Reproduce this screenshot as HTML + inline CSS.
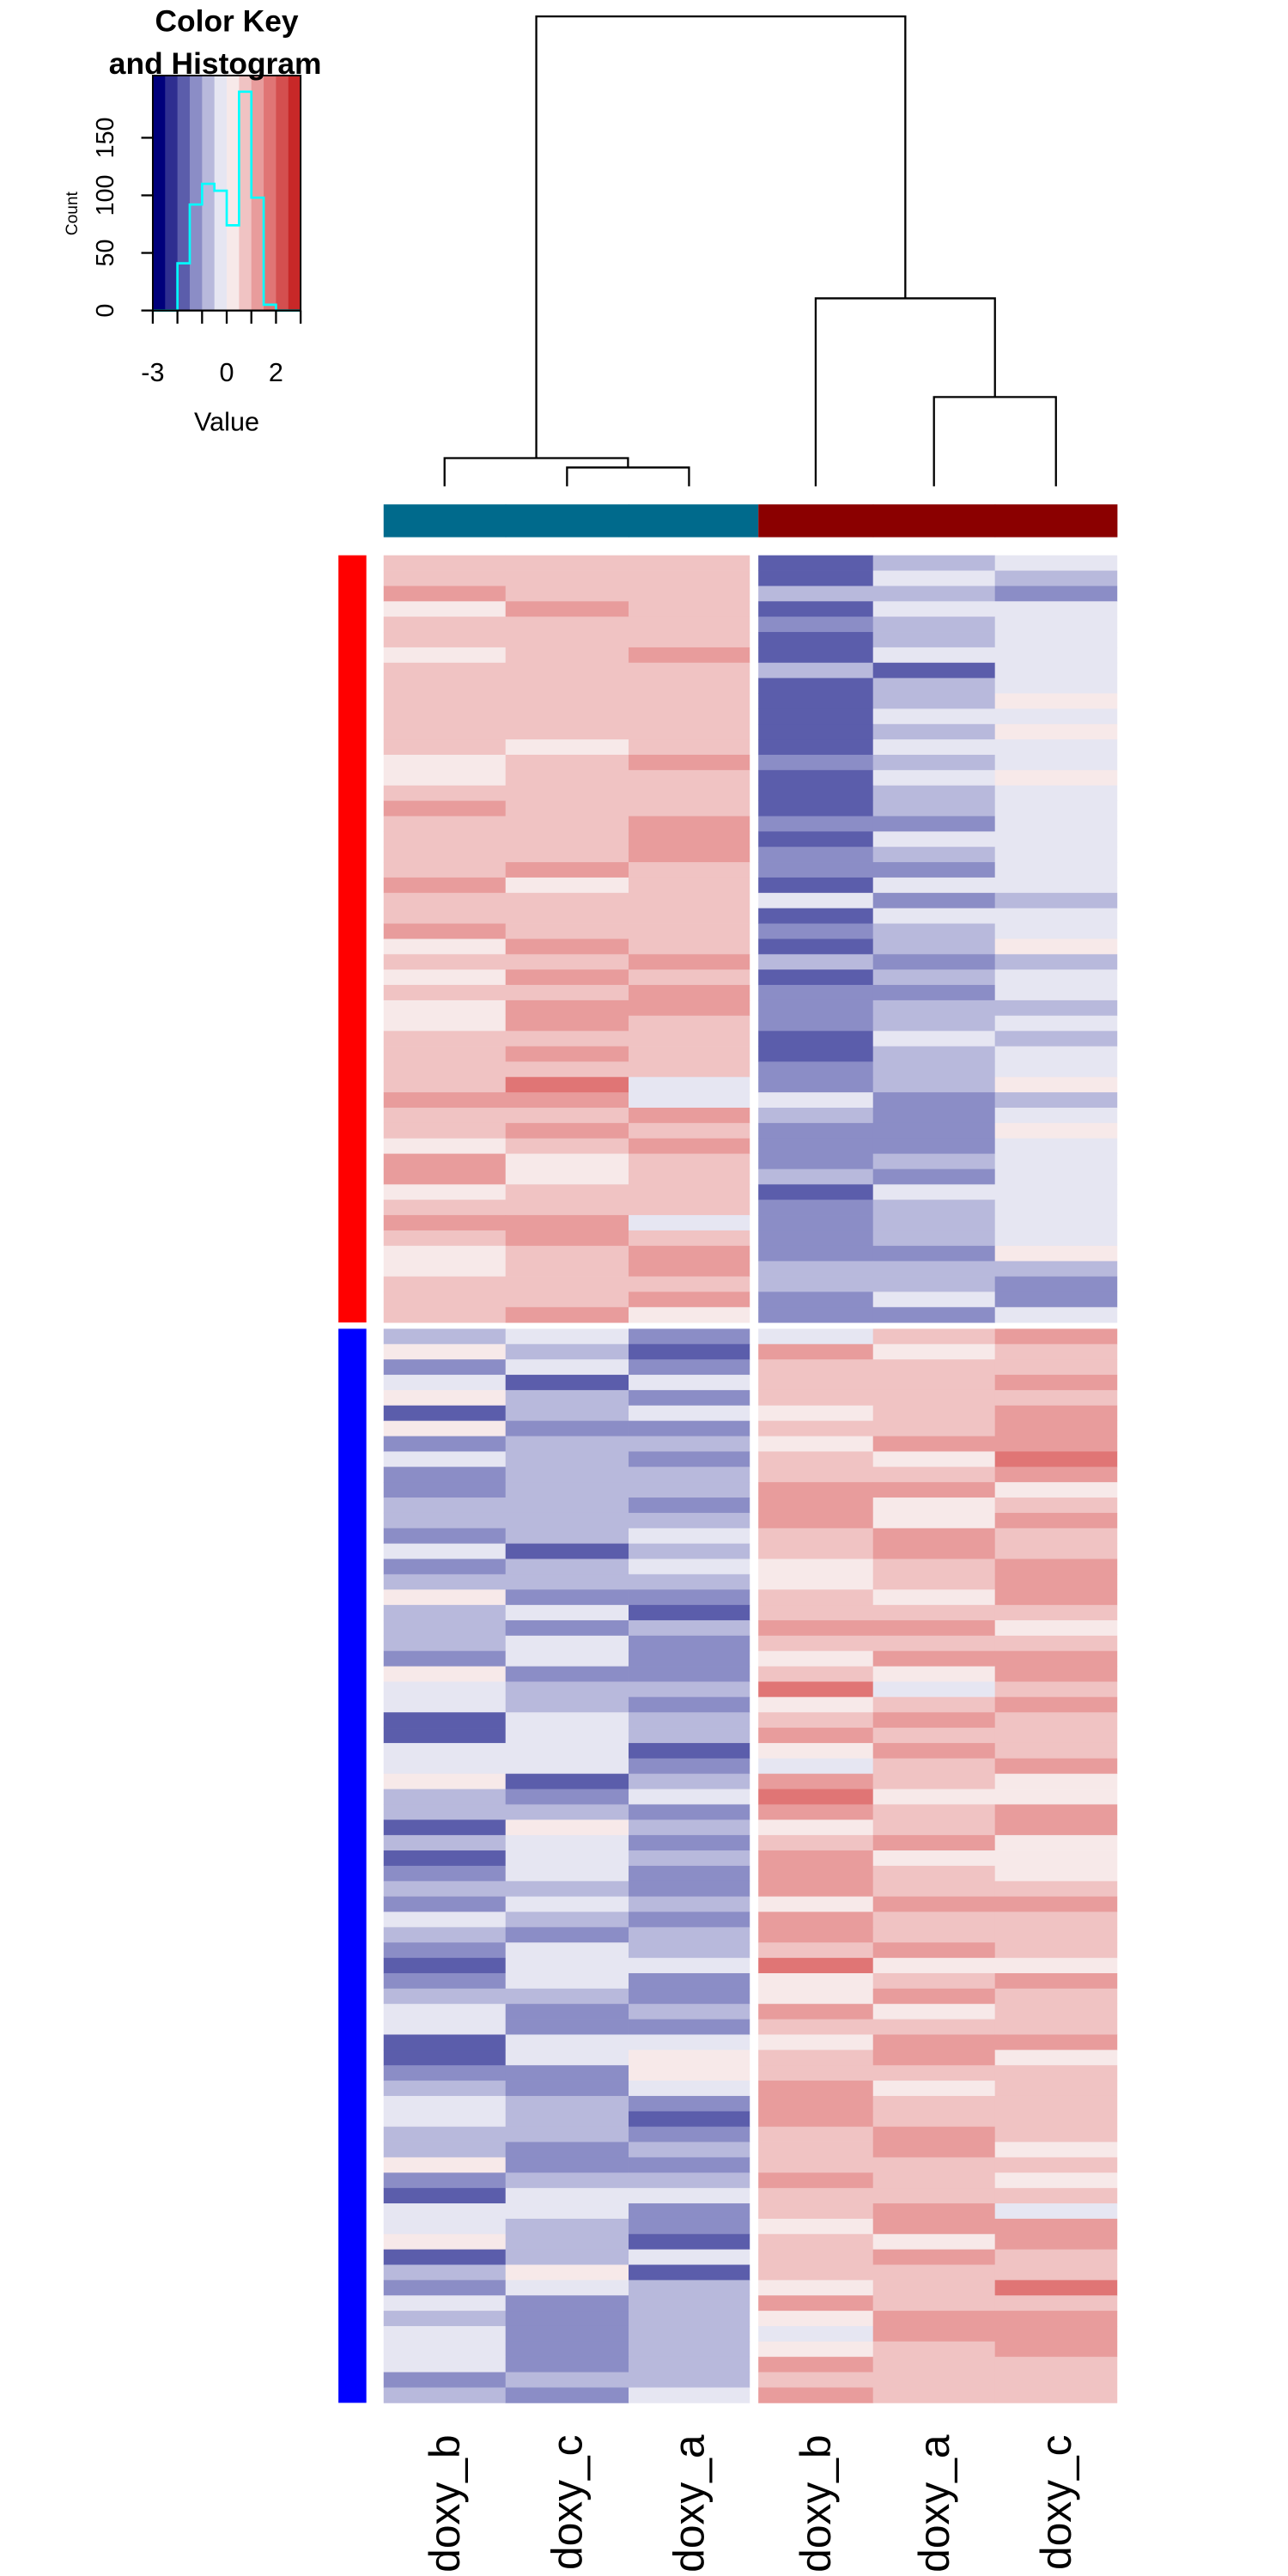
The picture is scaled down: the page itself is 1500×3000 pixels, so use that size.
<!DOCTYPE html>
<html><head><meta charset="utf-8"><style>
html,body{margin:0;padding:0;background:#fff;}
svg{display:block;font-family:"Liberation Sans",Arial,sans-serif;}
</style></head><body>
<svg id="c" xmlns="http://www.w3.org/2000/svg" width="1500" height="3000" viewBox="0 0 784 1568" preserveAspectRatio="none">
<g id="key"></g>
<g id="dend"></g>
<g id="heat"></g>
<g id="labs"></g>
</svg>
<script>
const NS="http://www.w3.org/2000/svg";
// ---- data ----
const keyColors=["#00007b","#2e2e90","#5b5dab","#8b8dc6","#b8b9dc","#e6e6f2","#f7e9e9","#f0c3c3","#e89c9c","#e07575","#d44f4f","#c82828"];
const histCounts=[0,0,41,92,110,104,74,190,98,5,0,0];
const yTicks=[0,50,100,150];
const xTickLabels=["-3","0","2"];
const xTickValues=[-3,0,2];
const colLabels=["doxy_b","doxy_c","doxy_a","doxy_b","doxy_a","doxy_c"];
const colGroups=["#006a8c","#006a8c","#006a8c","#8b0000","#8b0000","#8b0000"];
const levelColor={A:"#5b5dab",B:"#8b8dc6",C:"#b8b9dc",D:"#e6e6f2",E:"#f7e9e9",F:"#f0c3c3",G:"#e89c9c",H:"#e07575"};
const topRows=["FFFACD","FFFADC","GFFCCB","EGFADD","FFFBCD","FFFACD","EFGADD","FFFCAD","FFFACD","FFFACE","FFFADD","FFFACE","FEFADD","EFGBCD","EFFADE","FFFACD","GFFACD","FFGBBD","FFGADD","FFGBCD","FGFBBD","GEFADD","FFFDBC","FFFADD","GFFBCD","EGFACE","FFGCBC","EGFACD","FFGBBD","EGGBCC","EGFBCD","FFFADC",
"FGFACD","FFFBCD","FHDBCE","GGDDBC","FFGCBD","FGFBBE","EFGBBD","GEFBCD","GEFCBD","EFFADD","FFFBCD","GGDBCD","FGFBCD","EFGBBE","EFGCCC","FFFCCB","FFGBDB","FGEBBD"];
const botRows=["CDBDFG","ECAGEF","BDBFFF","DADFFG","ECBFFF","ACDEFG","EBBFFG","BCCEGG","DCBFEH","BCCFFG","BCCGGE","CCBGEF","CCCGEG","BCDFGF",
"DACFGF","BCDEFG","CCCEFG","EBBFEG","CDAFFF","CBCGGE","CDBFFF","BDBEGG","EBBFEG","DCCHDF","DCBEFG","ADCFGF","ADCGFF","DDAEGF","DDBDFG","EACGFE","CBDHEE","CCBGFG","AECEFG","CDBFGE","ADCGEE","BDBGFE","CCBGFF","BDCEGG","DCBGFF","CBCGFF","BDCFGF","ADDHEE","BDBEFG","CCBEGF","DBCGEF","DBBFFF",
"ADDEGG","ADEFGE","BBEFFF","CBDGEF","DCBGFF","DCAGFF","CCBFGF","CBCFGE","EBBFFF","BCCGFE","ADDFFF","DDBFGD","DCBEGG","ECAFEG","ACDFGF","CEAFFF","BDCEFH","DBCGFF","CBCEGG","DBCDGG","DBCEFG","DBCGFF","BCCFFF","CBDGFF"];
const rowGroups=[{color:"#ff0000",rows:topRows},{color:"#0000ff",rows:botRows}];
const merges=[[1,2,0.04],[0,"m0",0.06],[4,5,0.19],[3,"m2",0.40],["m1","m3",1.0]];

function el(t,a,p){const e=document.createElementNS(NS,t);for(const k in a)e.setAttribute(k,a[k]);(p||document.getElementById("c")).appendChild(e);return e;}

// ---- color key ----
const key=document.getElementById("key");
const kx0=93,kx1=183,ky0=46,ky1=189,ymax=204;
const kx=v=>kx0+(v+3)/6*(kx1-kx0);
const ky=c=>ky1-c/ymax*(ky1-ky0);
const bw=(kx1-kx0)/keyColors.length;
keyColors.forEach((c,i)=>{const r=el("rect",{x:kx0+i*bw,y:ky0,width:bw+0.3,height:ky1-ky0,fill:c},key);

});
let d="M"+kx0+","+ky(0);
histCounts.forEach((h,i)=>{d+=" L"+(kx0+i*bw)+","+ky(h)+" L"+(kx0+(i+1)*bw)+","+ky(h);});
d+=" L"+kx1+","+ky(0);
const hp=el("path",{d:d,fill:"none",stroke:"#00ffff","stroke-width":1.4},key);


el("rect",{x:kx0,y:ky0,width:kx1-kx0,height:ky1-ky0,fill:"none",stroke:"#000","stroke-width":1},key);
el("line",{x1:kx0,y1:ky1,x2:kx1,y2:ky1,stroke:"#000","stroke-width":1.2},key);
yTicks.forEach(t=>{const y=ky(t);
el("line",{x1:kx0-7,y1:y,x2:kx0,y2:y,stroke:"#000","stroke-width":1.2},key);
const tx=el("text",{x:0,y:0,"font-size":15,"text-anchor":"middle",transform:"translate(69,"+y+") rotate(-90)"},key);
tx.textContent=t;

});
for(let v=-3;v<=3;v++){el("line",{x1:kx(v),y1:ky1,x2:kx(v),y2:ky1+8,stroke:"#000","stroke-width":1.2},key);}
xTickValues.forEach((v,i)=>{const tx=el("text",{x:kx(v),y:232,"font-size":16,"text-anchor":"middle"},key);
tx.textContent=xTickLabels[i];

});
const vt=el("text",{x:138,y:262,"font-size":16,"text-anchor":"middle"},key);vt.textContent="Value";

const ct=el("text",{x:0,y:0,"font-size":10,"text-anchor":"middle",transform:"translate(47,130) rotate(-90)"},key);ct.textContent="Count";

const t1=el("text",{x:138,y:19,"font-size":18.5,"font-weight":"bold","text-anchor":"middle"},key);t1.textContent="Color Key";

const t2=el("text",{x:131,y:45,"font-size":18.5,"font-weight":"bold","text-anchor":"middle"},key);t2.textContent="and Histogram";

el("rect",{x:208,y:20,width:30,height:30,fill:"#fff"},key);

// ---- heatmap ----
const heat=document.getElementById("heat");
const colEdges=[[233.5,307.7],[307.7,382.6],[382.6,456.2],[461.6,531.4],[531.4,605.6],[605.6,679.9]];
const groupTop=[338,808.8],rowH=9.34;
rowGroups.forEach((g,gi)=>{
  g.rows.forEach((row,ri)=>{
    const y=groupTop[gi]+ri*rowH;
    row.split("").forEach((ch,ci)=>{
      const r=el("rect",{x:colEdges[ci][0],y:y,width:colEdges[ci][1]-colEdges[ci][0]+0.2,height:rowH+0.2,fill:levelColor[ch]},heat);
      
      
    });
  });
  const sb=el("rect",{x:206,y:groupTop[gi],width:17,height:g.rows.length*rowH,fill:g.color},heat);
  
  
});
colGroups.forEach((c,i)=>{const r=el("rect",{x:colEdges[i][0],y:307,width:colEdges[i][1]-colEdges[i][0]+(i==2?5.4:0.3),height:20,fill:c},heat);
});

// ---- dendrogram ----
const dend=document.getElementById("dend");
const leafY=296,topY=10;
const hy=h=>leafY-h*(leafY-topY);
const nodes={};
colEdges.forEach((e,i)=>{nodes[i]={x:(e[0]+e[1])/2,y:leafY};});
merges.forEach((m,i)=>{
  const a=nodes[m[0]],b=nodes[m[1]],y=hy(m[2]);
  const p=el("path",{d:"M"+a.x+","+a.y+" V"+y+" H"+b.x+" V"+b.y,fill:"none",stroke:"#000","stroke-width":1.2},dend);
  
  
  nodes["m"+i]={x:(a.x+b.x)/2,y:y};
});

// ---- labels ----
const labs=document.getElementById("labs");
colLabels.forEach((l,i)=>{const x=(colEdges[i][0]+colEdges[i][1])/2+9;
const t=el("text",{x:0,y:0,"font-size":26,"text-anchor":"end",transform:"translate("+x+",1482) rotate(-90)"},labs);
t.textContent=l;

});
</script>
</body></html>
